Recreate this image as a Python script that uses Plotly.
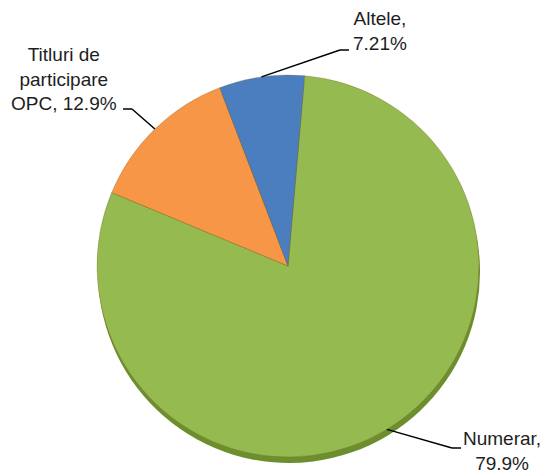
import math
import plotly.graph_objects as go

labels = ["Numerar", "Titluri de participare OPC", "Altele"]
values = [79.9, 12.9, 7.21]
label_texts = ["Numerar,<br>79.9%", "Titluri de<br>participare<br>OPC, 12.9%", "Altele,<br>7.21%"]
colors = ["#95BA50", "#F79646", "#4A7EBF"]

# page body has an 8px margin; figure is sized to fill the rest of the window
OFF = 8
W, H = 541, 466
CX, CY, R = 288, 266, 191
ROT = 5


def px(x):
    return (x - OFF) / W


def py(y):
    return 1 - (y - OFF) / H


fig = go.Figure()

# shadow under the pie
fig.add_trace(go.Pie(
    labels=labels, values=values, sort=False, direction="clockwise", rotation=ROT,
    marker=dict(colors=["#6C8E2C"] * 3, line=dict(width=0)),
    textinfo="none", hoverinfo="skip", showlegend=False,
    domain=dict(x=[px(CX - R + 1), px(CX + R + 1)], y=[py(CY + R + 6), py(CY - R + 6)]),
))

fig.add_trace(go.Pie(
    labels=labels, values=values, sort=False, direction="clockwise", rotation=ROT,
    marker=dict(colors=colors, line=dict(width=0.6, color="rgba(120,90,40,0.5)")),
    textinfo="none", showlegend=False,
    domain=dict(x=[px(CX - R), px(CX + R)], y=[py(CY + R), py(CY - R)]),
))

# label anchors (text centre, elbow, horizontal end) in screen pixels
label_pos = [
    dict(tx=502, ty=451, elbow=(452, 448), end=(461, 448)),
    dict(tx=64, ty=79, elbow=(132, 109), end=(123, 109)),
    dict(tx=380, ty=31, elbow=(340, 50), end=(349, 50)),
]

total = sum(values)
start = ROT
shapes = []
annotations = []
for v, txt, lp in zip(values, label_texts, label_pos):
    mid = start + v / total * 360 / 2
    start += v / total * 360
    a = math.radians(mid)
    ex = CX + R * math.sin(a)
    ey = CY - R * math.cos(a)
    shapes.append(dict(type="line", xref="paper", yref="paper",
                       x0=px(ex), y0=py(ey), x1=px(lp["elbow"][0]), y1=py(lp["elbow"][1]),
                       line=dict(color="black", width=1.5)))
    shapes.append(dict(type="line", xref="paper", yref="paper",
                       x0=px(lp["elbow"][0]), y0=py(lp["elbow"][1]),
                       x1=px(lp["end"][0]), y1=py(lp["end"][1]),
                       line=dict(color="black", width=1.5)))
    annotations.append(dict(x=px(lp["tx"]), y=py(lp["ty"]), xref="paper", yref="paper",
                            text=txt, showarrow=False, align="center",
                            xanchor="center", yanchor="middle",
                            font=dict(family="Arial, Liberation Sans, sans-serif", size=19, color="#1e1e1e")))

fig.update_layout(
    width=W, height=H,
    margin=dict(l=0, r=0, t=0, b=0),
    paper_bgcolor="white", plot_bgcolor="white",
    shapes=shapes, annotations=annotations,
    showlegend=False,
)

fig.write_html("out.html")
